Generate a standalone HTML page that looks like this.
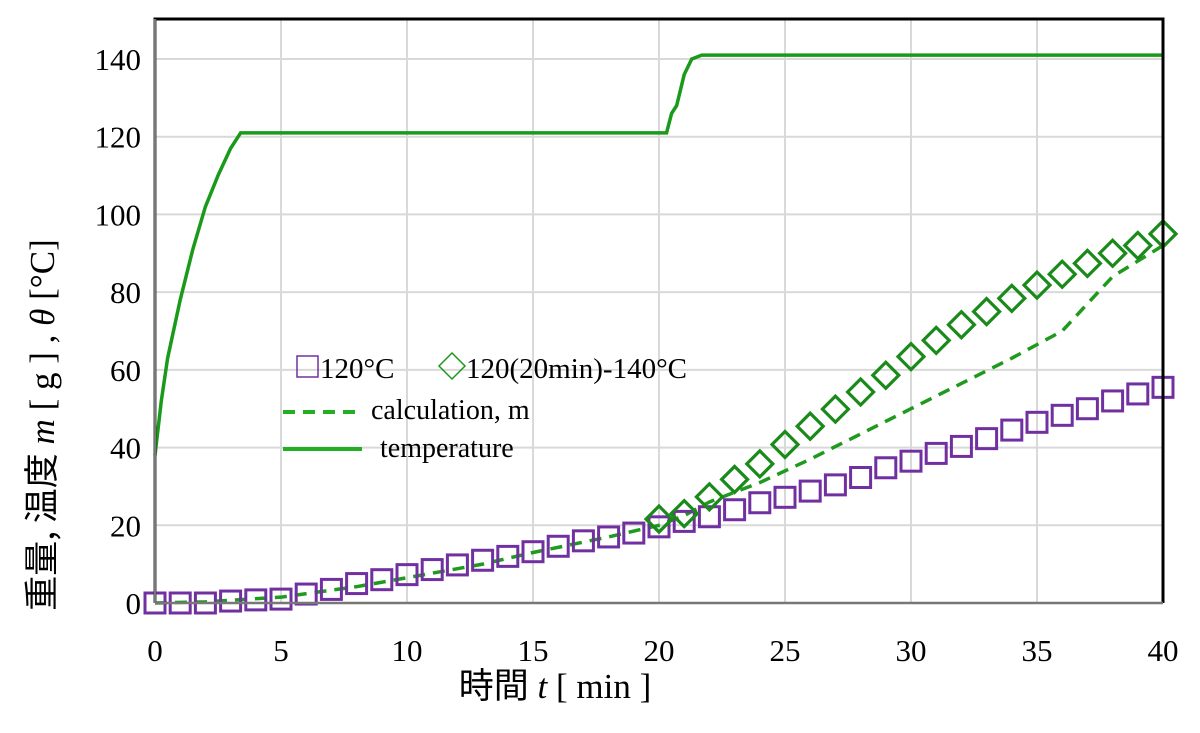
<!DOCTYPE html>
<html><head><meta charset="utf-8"><style>
body{margin:0;background:#fff}
svg text{font-family:"Liberation Serif","Noto Serif CJK SC",serif;fill:#000}
</style></head><body>
<svg id="c" width="1200" height="728" xmlns="http://www.w3.org/2000/svg">
<g id="grid"></g><g id="marks"></g><g id="axes"></g>
</svg>
<script>
const xTicks=[0,5,10,15,20,25,30,35,40];
const yTicks=[0,20,40,60,80,100,120,140];
const tSquare=[0,1,2,3,4,5,6,7,8,9,10,11,12,13,14,15,16,17,18,19,20,21,22,23,24,25,26,27,28,29,30,31,32,33,34,35,36,37,38,39,40];
const m120=[0,0,0,0.5,0.8,1,2.3,3.5,5,6,7.3,8.6,9.8,11,12,13.2,14.6,16,17,18,19.6,21,22.2,24,25.8,27.2,28.8,30.4,32.3,34.8,36.5,38.5,40.3,42.3,44.5,46.5,48.3,50,52,53.8,55.5];
const tDiamond=[20,21,22,23,24,25,26,27,28,29,30,31,32,33,34,35,36,37,38,39,40];
const m140=[21.6,23,27.3,31.8,35.8,40.8,45.5,49.9,54.3,58.6,63.4,67.6,71.6,75,78.4,81.8,84.6,87.4,90,92,95];
const tCalc=[0,2,5,8,10,13,15,18,20,21,22,24,26,28,30,32,34,36,38,40];
const mCalc=[0,0.3,1.5,4.2,6.5,10,13,17,20,22.5,26,31,37,43.5,50,56.5,63,70,77,93];
const tTemp=[0,0.25,0.5,1,1.5,2,2.5,3,3.4,10,20.3,20.5,20.7,21,21.3,21.7,30,40];
const temp=[38,52,63,78,91,102,110,117,121,121,121,126,128,136,140,141,141,141];
mCalc[mCalc.length-1]=92; mCalc[18]=84;
const X0=155,X1=1163,Y0=603,YT=59;
const sx=t=>X0+(X1-X0)*t/40, sy=v=>Y0-(Y0-YT)*v/140;
const NS="http://www.w3.org/2000/svg";
function mk(tag,at,parent){const e=document.createElementNS(NS,tag);for(const k in at)e.setAttribute(k,at[k]);document.getElementById(parent).appendChild(e);return e;}
const g='grid';
xTicks.forEach(t=>{if(t>0&&t<40){const l=mk('line',{x1:sx(t),x2:sx(t),y1:19,y2:Y0,stroke:'#d9d9d9','stroke-width':2},g);

}
const tx=mk('text',{x:sx(t),y:661,'font-size':31,'text-anchor':'middle'},'axes');tx.textContent=t;

});
yTicks.forEach(v=>{if(v>0){const l=mk('line',{x1:X0,x2:X1,y1:sy(v),y2:sy(v),stroke:'#d9d9d9','stroke-width':2},g);

}
const tx=mk('text',{x:141,y:sy(v)+11,'font-size':31,'text-anchor':'end'},'axes');tx.textContent=v;

});
let f=mk('path',{d:`M${X0} ${Y0} V19 H${X1} V${Y0}`,fill:'none',stroke:'#000','stroke-width':3},'axes');


f=mk('line',{x1:X0,x2:X1,y1:Y0,y2:Y0,stroke:'#777','stroke-width':2.5},'axes');


f=mk('line',{x1:X0,x2:X0,y1:19,y2:Y0,stroke:'#777','stroke-width':2.5},'axes');


let p=mk('polyline',{points:tTemp.map((t,i)=>sx(t)+','+sy(temp[i])).join(' '),fill:'none',stroke:'#1a9a1a','stroke-width':3.5},'marks');


p=mk('polyline',{points:tCalc.map((t,i)=>sx(t)+','+sy(mCalc[i])).join(' '),fill:'none',stroke:'#1f9a1f','stroke-width':3.5,'stroke-dasharray':'12,8'},'marks');


tSquare.forEach((t,i)=>{const r=mk('rect',{x:sx(t)-10,y:sy(m120[i])-10,width:20,height:20,fill:'none',stroke:'#7030a0','stroke-width':3},'marks');

});
tDiamond.forEach((t,i)=>{const x=sx(t),y=sy(m140[i]);const r=mk('path',{d:`M${x} ${y-13} L${x+13} ${y} L${x} ${y+13} L${x-13} ${y} Z`,fill:'none',stroke:'#1a8a1a','stroke-width':3.2},'marks');

});
</script>
<svg width="1200" height="728" style="position:absolute;left:0;top:0">
<g>
<rect x="297" y="356" width="21" height="21" fill="none" stroke="#7030a0" stroke-width="1.5"/>
<text x="320" y="378" font-size="29">120°C</text>
<path d="M452 353 L465 366 L452 379 L439 366 Z" fill="none" stroke="#1a9a1a" stroke-width="1.5"/>
<text x="466" y="378" font-size="29">120(20min)-140°C</text>
<line x1="283" x2="355" y1="412" y2="412" stroke="#22b022" stroke-width="4" stroke-dasharray="12,8"/>
<text x="371" y="419" font-size="28">calculation, m</text>
<line x1="283" x2="362" y1="449" y2="449" stroke="#22b022" stroke-width="4"/>
<text x="380" y="457" font-size="28">temperature</text>
</g>
<text x="555" y="698" font-size="35" text-anchor="middle"><tspan font-family="Noto Sans CJK JP">時間</tspan>  <tspan font-style="italic">t</tspan>  [ min ]</text>
<text transform="translate(54,425) rotate(-90)" font-size="35" text-anchor="middle"><tspan font-family="Noto Sans CJK JP">重量, 温度</tspan>  <tspan font-style="italic">m</tspan>  [ g ] , <tspan font-style="italic">θ</tspan> [°C]</text>
</svg>
</body></html>
